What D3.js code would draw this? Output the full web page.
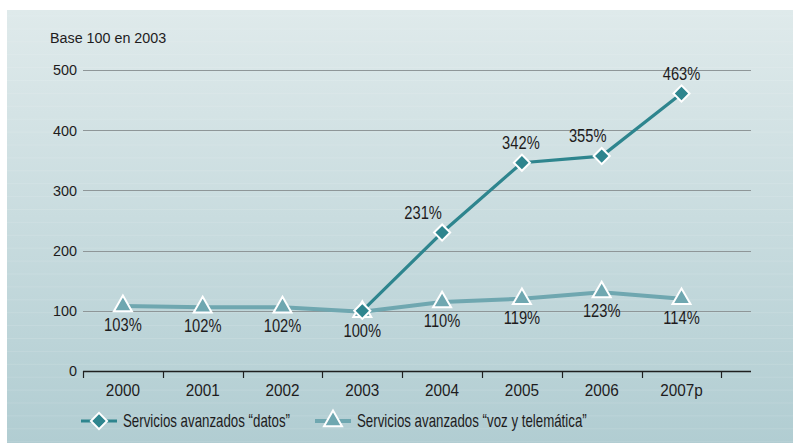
<!DOCTYPE html>
<html>
<head>
<meta charset="utf-8">
<script src="https://cdn.jsdelivr.net/npm/d3@7"></script>
<style>
  html, body { margin: 0; padding: 0; background: #ffffff; }
  svg { display: block; }
  text { font-family: "Liberation Sans", Arial, sans-serif; fill: #1e1c1d; }
</style>
</head>
<body>
<svg id="chart" width="793" height="443"></svg>
<script>
// ---- data ----
const categories = ["2000", "2001", "2002", "2003", "2004", "2005", "2006", "2007p"];
const datosValues = [null, null, null, 100, 230, 346, 357, 461];
const datosLabels = [null, null, null, null, "231%", "342%", "355%", "463%"];
const vozValues = [108, 106, 106, 98.5, 114.5, 120, 131, 120];
const vozLabels = ["103%", "102%", "102%", "100%", "110%", "119%", "123%", "114%"];
const yTicks = [0, 100, 200, 300, 400, 500];
const yTitle = "Base 100 en 2003";
const seriesNames = ["Servicios avanzados \u201cdatos\u201d", "Servicios avanzados \u201cvoz y telem\u00e1tica\u201d"];

// ---- layout ----
const W = 793, H = 443;
const svg = d3.select("#chart");
const colDatos = "#2e858e";
const colVoz = "#6fa7b0";

// background gradient
const defs = svg.append("defs");
const grad = defs.append("linearGradient").attr("id", "bg").attr("x1", 0).attr("y1", 0).attr("x2", 0).attr("y2", 1);
grad.append("stop").attr("offset", "0%").attr("stop-color", "#dfeaeb");
grad.append("stop").attr("offset", "100%").attr("stop-color", "#b1cdd2");
svg.append("rect").attr("x", 7).attr("y", 10).attr("width", W - 7).attr("height", H - 10).attr("fill", "url(#bg)");
// faint stripes
const stripes = d3.range(10 + 6, H, 12.9);
svg.append("g").selectAll("line").data(stripes).join("line")
  .attr("x1", 7).attr("x2", W).attr("y1", d => d).attr("y2", d => d)
  .attr("stroke", "#ffffff").attr("stroke-opacity", 0.12).attr("stroke-width", 1);

const x = d3.scaleBand().domain(categories).range([83, 721.4]).paddingInner(0).paddingOuter(0);
const cx = c => x(c) + x.bandwidth() / 2;
const axisEnd = 751;
const y = d3.scaleLinear().domain([0, 500]).range([371, 70]);

// helper: place condensed text
function place(sel, fx, fy, sx) {
  sel.attr("x", 0).attr("y", 0)
    .attr("transform", (d, i) => `translate(${fx(d, i)},${fy(d, i)}) scale(${sx},1)`);
}

// gridlines
svg.append("g").selectAll("line").data(yTicks.filter(d => d > 0)).join("line")
  .attr("x1", 83).attr("x2", axisEnd)
  .attr("y1", d => Math.round(y(d)) + 0.5).attr("y2", d => Math.round(y(d)) + 0.5)
  .attr("stroke", "#8e9698").attr("stroke-width", 1.2);

// y axis labels
const yAxis = d3.axisLeft(y).tickValues(yTicks).tickSize(0).tickPadding(0);
const gy = svg.append("g").attr("transform", "translate(77,0)").call(yAxis);
gy.select(".domain").remove();
gy.selectAll("text").attr("font-size", 15.5).attr("fill", "#1e1c1d")
  .style("font-family", "'Liberation Sans', Arial, sans-serif")
  .attr("transform", "scale(0.93,1)");

svg.append("text").attr("dy", "0.35em").attr("font-size", 15.4).text(yTitle)
  .call(place, () => 50, () => 38, 0.93);

// x axis
const xAxis = d3.axisBottom(x).tickSize(0).tickPadding(13);
const gx = svg.append("g").attr("transform", "translate(0,371)").call(xAxis);
gx.select(".domain").remove();
gx.selectAll(".tick text").attr("font-size", 16.3).attr("fill", "#1e1c1d")
  .style("font-family", "'Liberation Sans', Arial, sans-serif")
  .attr("transform", "scale(0.94,1)");
svg.append("line").attr("x1", 83).attr("x2", axisEnd).attr("y1", 371.5).attr("y2", 371.5)
  .attr("stroke", "#1f1f1f").attr("stroke-width", 1.5);
const boundaries = categories.map(c => x(c)).concat([x(categories[categories.length - 1]) + x.bandwidth()]);
svg.append("g").selectAll("line").data(boundaries).join("line")
  .attr("x1", d => Math.round(d) + 0.5).attr("x2", d => Math.round(d) + 0.5)
  .attr("y1", 371).attr("y2", 378).attr("stroke", "#1f1f1f").attr("stroke-width", 1.2);

// lines
const vozPts = categories.map((c, i) => ({ c, v: vozValues[i], l: vozLabels[i] }));
const datosPts = categories.map((c, i) => ({ c, v: datosValues[i], l: datosLabels[i] })).filter(d => d.v !== null);
const line = d3.line().x(d => cx(d.c)).y(d => y(d.v));

svg.append("path").datum(vozPts).attr("d", line).attr("fill", "none")
  .attr("stroke", colVoz).attr("stroke-width", 4);
const triSym = d3.symbol().type(d3.symbolTriangle).size(140);
svg.append("g").selectAll("path").data(vozPts).join("path")
  .attr("d", triSym).attr("transform", d => `translate(${cx(d.c)},${y(d.v)})`)
  .attr("fill", colVoz).attr("stroke", "#ffffff").attr("stroke-width", 2);

svg.append("path").datum(datosPts).attr("d", line).attr("fill", "none")
  .attr("stroke", colDatos).attr("stroke-width", 3.2);
const diaSym = d3.symbol().type(d3.symbolSquare).size(130);
svg.append("g").selectAll("path").data(datosPts).join("path")
  .attr("d", diaSym).attr("transform", d => `translate(${cx(d.c)},${y(d.v)}) rotate(45)`)
  .attr("fill", colDatos).attr("stroke", "#ffffff").attr("stroke-width", 2);

// labels
const pctSize = 17.5, pctCond = 0.84;
const datosDx = { "2004": -19, "2005": -1, "2006": -14, "2007p": 0 };
svg.append("g").selectAll("text").data(datosPts.filter(d => d.l)).join("text")
  .attr("dy", "0.35em").attr("text-anchor", "middle").attr("font-size", pctSize).text(d => d.l)
  .call(place, d => cx(d.c) + (datosDx[d.c] || 0), d => y(d.v) - 20, pctCond);
svg.append("g").selectAll("text").data(vozPts).join("text")
  .attr("dy", "0.35em").attr("text-anchor", "middle").attr("font-size", pctSize).text(d => d.l)
  .call(place, d => cx(d.c), d => y(d.v) + 19, pctCond);

// legend
const lg = svg.append("g");
const ly = 421;
const legSize = 17.5, legCond = 0.76;
lg.append("line").attr("x1", 81).attr("x2", 117).attr("y1", ly).attr("y2", ly).attr("stroke", colDatos).attr("stroke-width", 3.2);
lg.append("path").attr("d", diaSym).attr("transform", `translate(99,${ly}) rotate(45)`)
  .attr("fill", colDatos).attr("stroke", "#fff").attr("stroke-width", 2);
lg.append("text").datum(seriesNames[0]).attr("dy", "0.35em").attr("font-size", legSize).text(d => d)
  .call(place, () => 123, () => ly, legCond);
lg.append("line").attr("x1", 315).attr("x2", 351).attr("y1", ly).attr("y2", ly).attr("stroke", colVoz).attr("stroke-width", 4);
lg.append("path").attr("d", triSym).attr("transform", `translate(333,${ly})`)
  .attr("fill", colVoz).attr("stroke", "#fff").attr("stroke-width", 2);
lg.append("text").datum(seriesNames[1]).attr("dy", "0.35em").attr("font-size", legSize).text(d => d)
  .call(place, () => 357, () => ly, legCond);
</script>
</body>
</html>
